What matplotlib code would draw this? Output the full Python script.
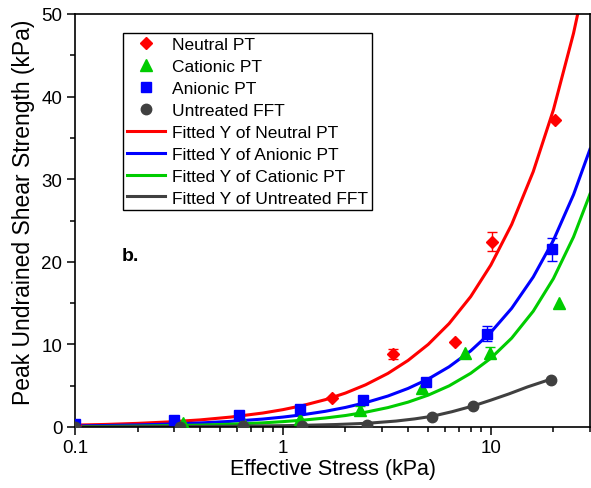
import matplotlib
matplotlib.use("Agg")
import matplotlib.pyplot as plt
from matplotlib.ticker import MultipleLocator, FixedLocator, FixedFormatter, LogLocator, NullFormatter

plt.rcParams['font.family'] = ['Liberation Sans', 'DejaVu Sans']

# ---- measured points ----
neutral_x = [0.1, 1.72, 3.40, 6.72, 10.15, 20.3]
neutral_y = [0.2, 3.5, 8.8, 10.3, 22.4, 37.2]
neutral_err = [0.0, 0.0, 0.6, 0.0, 1.15, 0.0]

cationic_x = [0.1, 0.33, 0.64, 1.21, 2.35, 4.65, 7.48, 9.96, 21.2]
cationic_y = [0.1, 0.5, 0.6, 1.0, 2.0, 4.7, 9.0, 9.0, 15.0]
cationic_err = [0.0, 0.0, 0.0, 0.0, 0.6, 0.0, 0.0, 0.7, 0.0]

anionic_x = [0.1, 0.299, 0.618, 1.21, 2.42, 4.86, 9.6, 19.7]
anionic_y = [0.35, 0.8, 1.45, 2.2, 3.3, 5.5, 11.3, 21.5]
anionic_err = [0.0, 0.0, 0.0, 0.0, 0.0, 0.0, 0.9, 1.4]

untreated_x = [0.1, 0.32, 0.64, 1.24, 2.55, 5.23, 8.22, 19.5]
untreated_y = [0.0, 0.05, 0.1, 0.15, 0.3, 1.25, 2.6, 5.7]

# ---- fitted curves ----
fit_x = [0.1, 0.14, 0.2, 0.28, 0.4, 0.56, 0.8, 1.0, 1.25, 1.6, 2.0, 2.5, 3.2,
         4.0, 5.0, 6.3, 8.0, 10.0, 12.6, 16.0, 20.0, 25.0, 30.0]
fit_neutral = [0.23, 0.31, 0.44, 0.61, 0.86, 1.20, 1.69, 2.10, 2.61, 3.31, 4.11, 5.11, 6.49,
               8.06, 10.0, 12.52, 15.78, 19.6, 24.52, 30.92, 38.39, 47.67, 56.9]
fit_anionic = [0.13, 0.18, 0.25, 0.35, 0.49, 0.68, 0.96, 1.20, 1.49, 1.90, 2.37, 2.95, 3.75,
               4.67, 5.81, 7.29, 9.21, 11.46, 14.37, 18.16, 22.6, 28.13, 33.63]
fit_cationic = [0.05, 0.07, 0.11, 0.16, 0.23, 0.34, 0.50, 0.65, 0.83, 1.09, 1.39, 1.79, 2.35,
                3.01, 3.86, 4.98, 6.50, 8.32, 10.76, 14.02, 17.96, 23.01, 28.2]

fit_untreated_x = [0.1, 0.2, 0.32, 0.5, 0.64, 1.0, 1.24, 1.8, 2.55, 3.5, 4.3, 5.23, 6.5,
                   8.22, 10.0, 12.2, 15.0, 19.5]
fit_untreated = [0.02, 0.04, 0.06, 0.09, 0.11, 0.16, 0.2, 0.3, 0.45, 0.72, 0.98, 1.3, 1.85,
                 2.55, 3.25, 4.0, 4.85, 5.8]

RED = '#ff0000'
GREEN = '#00cc00'
BLUE = '#0000ff'
GREY = '#404040'

fig = plt.figure(figsize=(5.91, 4.89), dpi=100)
ax = fig.add_axes([75/591, 1-428/489, (590-75)/591, (428-15)/489])

lw = 2.2
l1, = ax.plot(fit_x, fit_neutral, color=RED, lw=lw, zorder=2)
l2, = ax.plot(fit_x, fit_anionic, color=BLUE, lw=lw, zorder=2)
l3, = ax.plot(fit_x, fit_cationic, color=GREEN, lw=lw, zorder=2)
l4, = ax.plot(fit_untreated_x, fit_untreated, color=GREY, lw=lw, zorder=2)

def errs(x, y, e, c):
    xs = [a for a, b in zip(x, e) if b > 0]
    ys = [a for a, b in zip(y, e) if b > 0]
    es = [b for b in e if b > 0]
    ax.errorbar(xs, ys, yerr=es, fmt='none', ecolor=c, elinewidth=1.0, capsize=3.8, capthick=1.0, zorder=3)

errs(neutral_x, neutral_y, neutral_err, RED)
errs(cationic_x, cationic_y, cationic_err, GREEN)
errs(anionic_x, anionic_y, anionic_err, BLUE)

s1, = ax.plot(neutral_x, neutral_y, 'D', color=RED, ms=6.5, mec=RED, ls='none', zorder=4)
s2, = ax.plot(cationic_x, cationic_y, '^', color=GREEN, ms=8, mec=GREEN, ls='none', zorder=4)
s3, = ax.plot(anionic_x, anionic_y, 's', color=BLUE, ms=7, mec=BLUE, ls='none', zorder=4)
s4, = ax.plot(untreated_x, untreated_y, 'o', color=GREY, ms=7.5, mec=GREY, ls='none', zorder=5)

ax.set_xscale('log')
ax.set_xlim(0.1, 30)
ax.set_ylim(0, 50)

ax.xaxis.set_major_locator(FixedLocator([0.1, 1, 10]))
ax.xaxis.set_major_formatter(FixedFormatter(['0.1', '1', '10']))
ax.xaxis.set_minor_locator(LogLocator(base=10, subs=[2, 3, 4, 5, 6, 7, 8, 9], numticks=20))
ax.xaxis.set_minor_formatter(NullFormatter())
ax.yaxis.set_major_locator(MultipleLocator(10))
ax.yaxis.set_minor_locator(MultipleLocator(5))

ax.tick_params(which='major', direction='out', length=6, width=1.1, labelsize=13.5, colors='black', pad=3)
ax.tick_params(which='minor', direction='out', length=3.5, width=1.1)
ax.tick_params(top=False, right=False, which='both')
for sp in ax.spines.values():
    sp.set_linewidth(1.2)
    sp.set_color('black')

ax.set_xlabel('Effective Stress (kPa)', fontsize=15.5, labelpad=1)
ax.set_ylabel('Peak Undrained Shear Strength (kPa)', fontsize=16.5, labelpad=4)
ax.yaxis.set_label_coords(-0.078, 0.522)

ax.text(0.091, 0.416, 'b.', transform=ax.transAxes, fontsize=14, fontweight='bold', va='center', ha='left')

handles = [s1, s2, s3, s4, l1, l2, l3, l4]
labels = ['Neutral PT', 'Cationic PT', 'Anionic PT', 'Untreated FFT',
          'Fitted Y of Neutral PT', 'Fitted Y of Anionic PT',
          'Fitted Y of Cationic PT', 'Fitted Y of Untreated FFT']
leg = ax.legend(handles, labels, loc='upper left', bbox_to_anchor=(0.093, 0.955),
                fontsize=12.5, frameon=True, fancybox=False, shadow=False,
                edgecolor='black', framealpha=1, borderaxespad=0, borderpad=0.25,
                labelspacing=0.39, handlelength=2.2, handletextpad=0.35)
leg.get_frame().set_linewidth(1.0)

fig.savefig('out.png', dpi=100)
